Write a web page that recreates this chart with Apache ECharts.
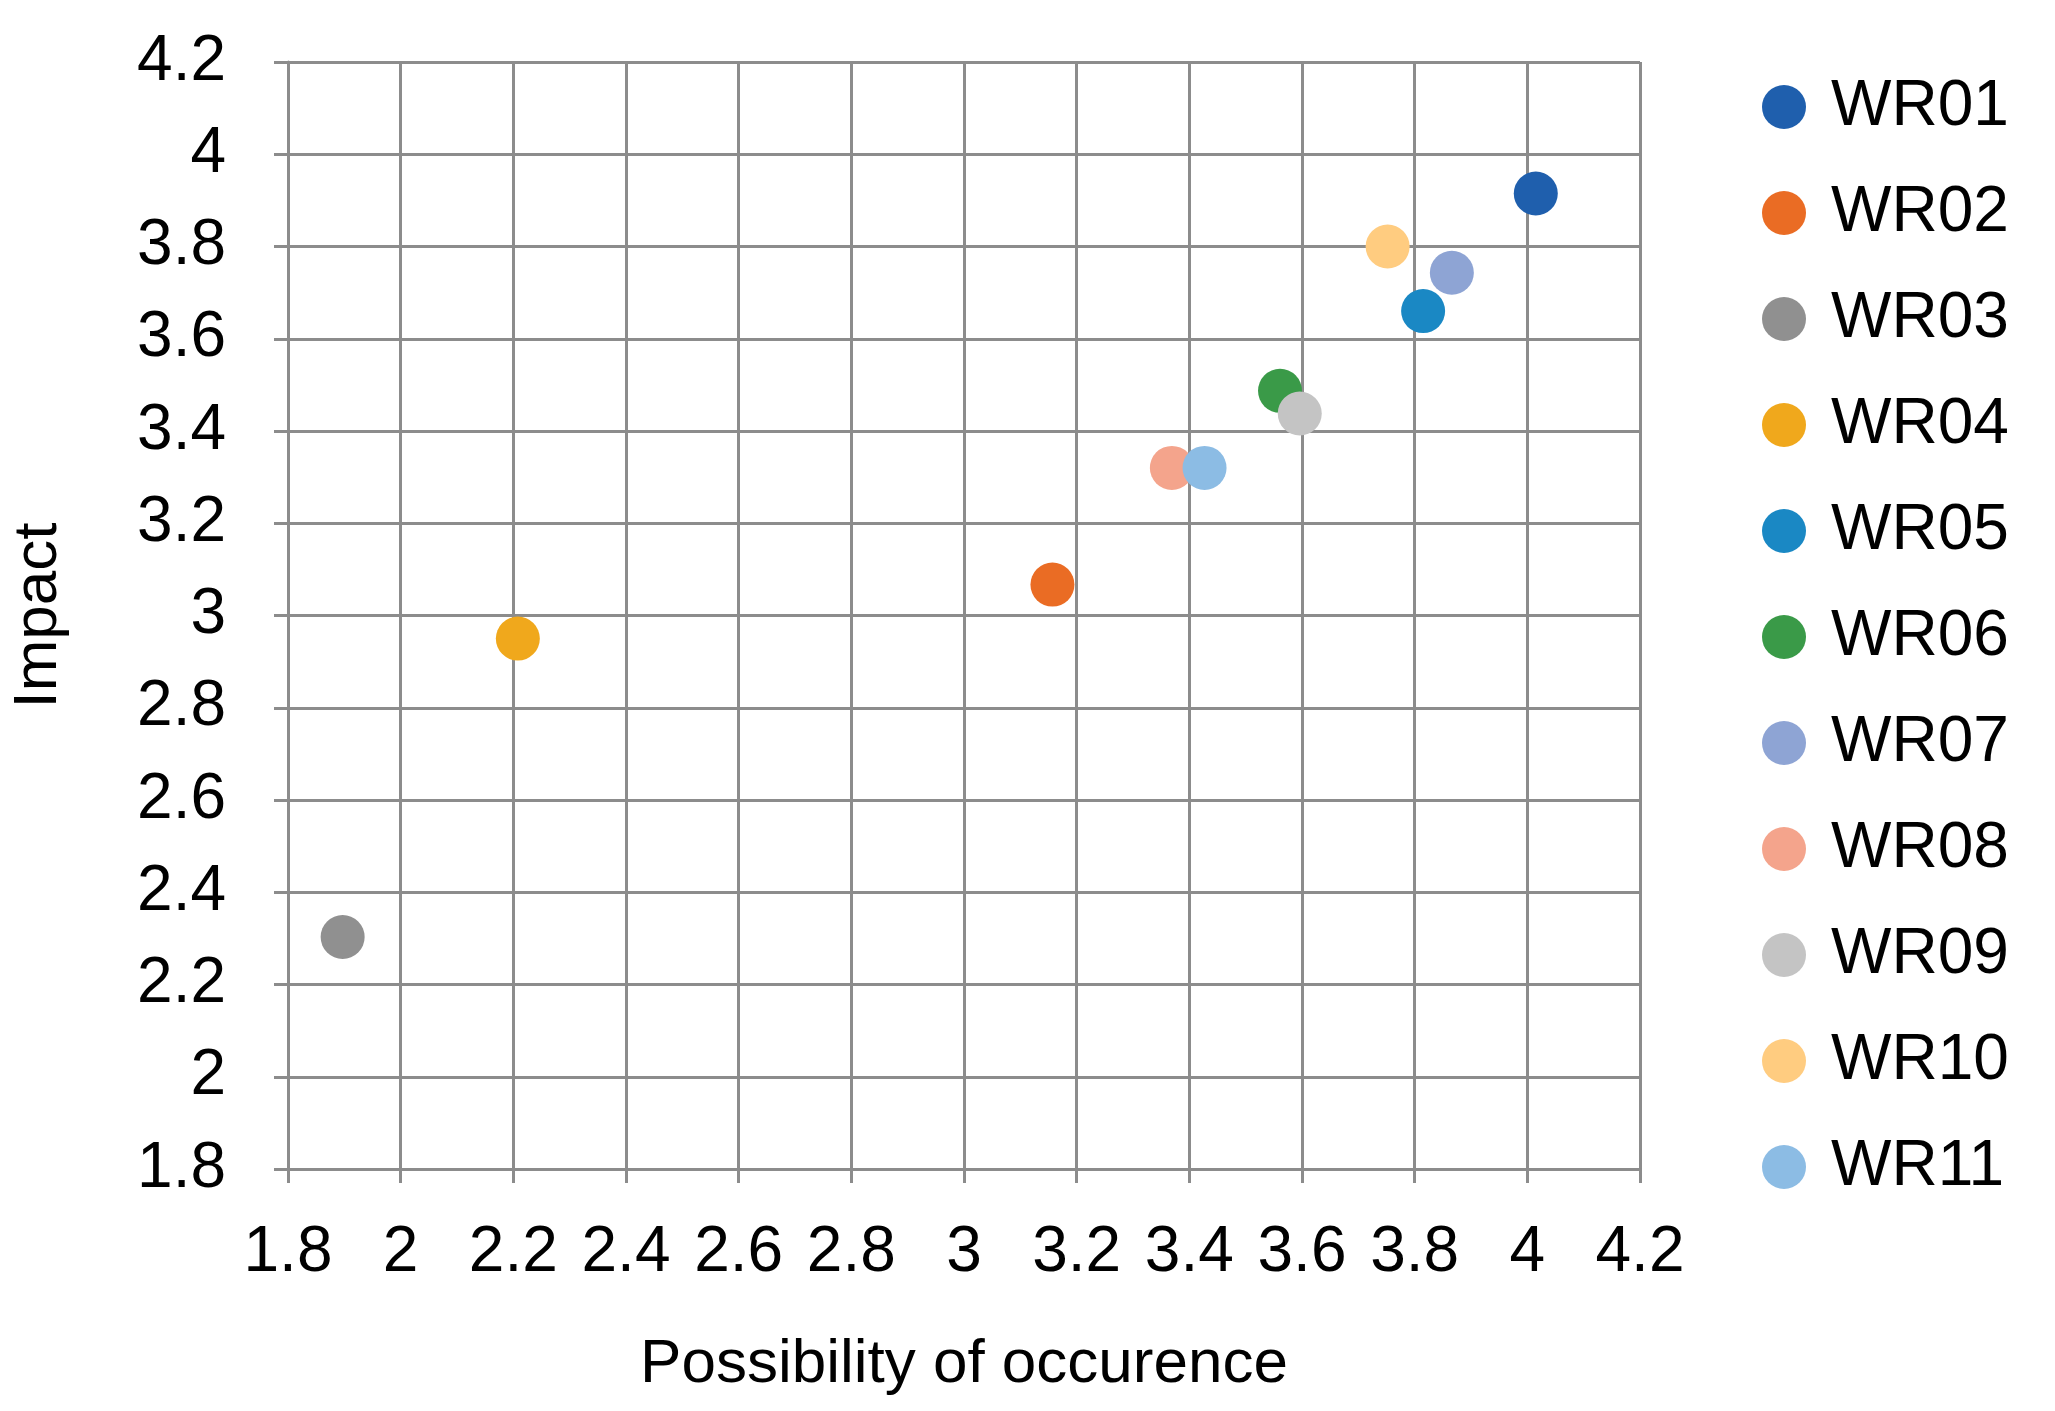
<!DOCTYPE html>
<html><head><meta charset="utf-8">
<script src="https://cdn.jsdelivr.net/npm/echarts@6/dist/echarts.min.js"></script>
<style>html,body{margin:0;background:#fff}#c{width:2055px;height:1411px}</style>
</head><body><div id="c"></div>
<script>
const names=['WR01','WR02','WR03','WR04','WR05','WR06','WR07','WR08','WR09','WR10','WR11'];
const xVals=[4.015,3.157,1.897,2.208,3.815,3.561,3.866,3.369,3.596,3.752,3.427];
const yVals=[3.915,3.067,2.303,2.95,3.66,3.487,3.743,3.32,3.438,3.80,3.32];
const colors=['#1f5fad','#ea6c24','#909090','#f0a81c','#1a88c4','#3a9a48','#8ea4d4','#f4a48c','#c4c4c4','#ffcc80','#8cbce4'];
const font='Liberation Sans, Arial, sans-serif';
const chart=echarts.init(document.getElementById('c'));
const axisCommon={min:1.8,max:4.2,interval:0.2,
 axisLine:{lineStyle:{color:'#8c8c8c',width:3}},
 axisTick:{show:true,length:14,lineStyle:{color:'#8c8c8c',width:3}},
 splitLine:{show:true,lineStyle:{color:'#8c8c8c',width:3}},
 axisLabel:{color:'#000',fontSize:64,fontFamily:font,formatter:v=>String(+v.toFixed(1))},
 nameTextStyle:{color:'#000',fontSize:62,fontFamily:font},nameLocation:'middle'};
chart.setOption({
 animation:false,
 grid:{left:261,right:415,top:62,bottom:242},
 xAxis:Object.assign({},axisCommon,{name:'Possibility of occurence',nameGap:165,axisLabel:Object.assign({},axisCommon.axisLabel,{margin:52})}),
 yAxis:Object.assign({},axisCommon,{name:'Impact',nameGap:218,axisLabel:Object.assign({},axisCommon.axisLabel,{margin:62})}),
 legend:{orient:'vertical',left:1757,top:70,itemGap:42,itemWidth:44,itemHeight:44,icon:'circle',
  textStyle:{fontSize:64,fontFamily:font,color:'#000',padding:[0,0,0,20]},data:names},
 series:names.map((n,i)=>({name:n,type:'scatter',symbolSize:44,itemStyle:{color:colors[i],opacity:1},data:[[xVals[i],yVals[i]]]}))
});
</script></body></html>
